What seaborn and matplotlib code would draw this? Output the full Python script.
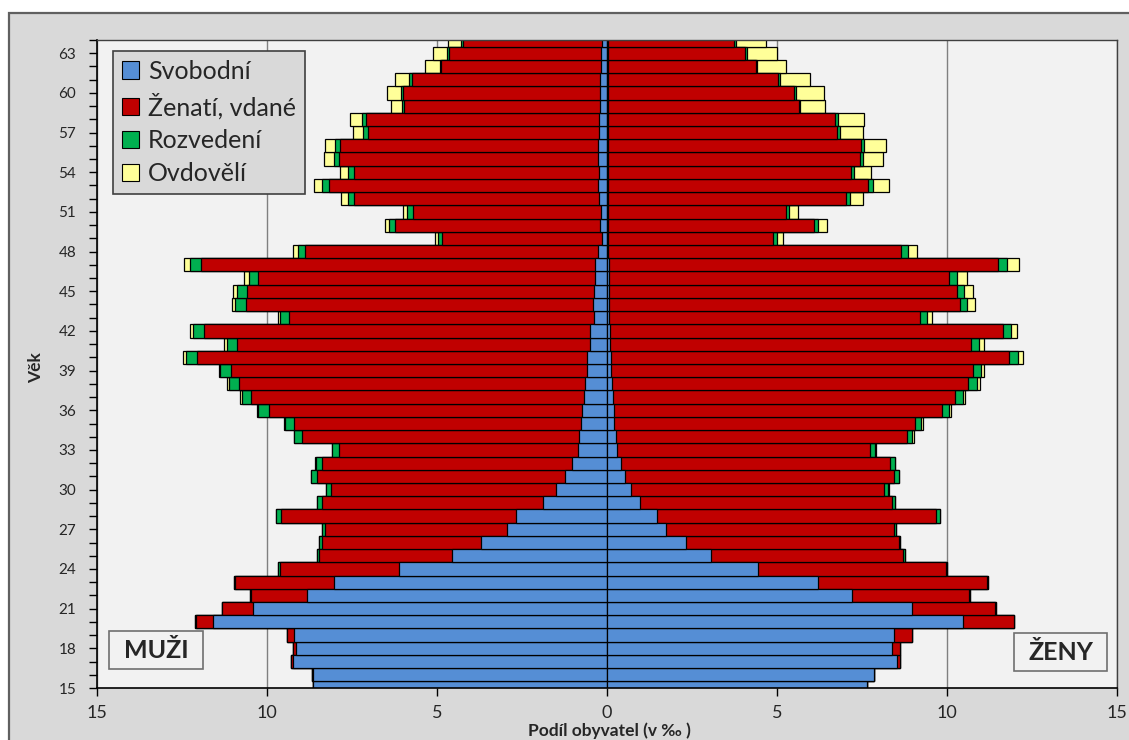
import numpy as np
import pandas as pd
import matplotlib
matplotlib.use("Agg")
import matplotlib.pyplot as plt
from matplotlib.patches import Patch, Rectangle
import seaborn as sns

# ---------------- data (‰ of population) ----------------
ages = list(range(15, 65))

male_svobodni = [8.65, 8.65, 9.24, 9.15, 9.22, 11.59, 10.42, 8.81, 8.03, 6.12,
                 4.57, 3.71, 2.95, 2.69, 1.89, 1.49, 1.23, 1.03, 0.84, 0.82,
                 0.76, 0.74, 0.69, 0.64, 0.58, 0.60, 0.50, 0.50, 0.37, 0.40,
                 0.37, 0.35, 0.36, 0.26, 0.15, 0.20, 0.18, 0.25, 0.26, 0.24,
                 0.27, 0.27, 0.24, 0.25, 0.20, 0.21, 0.20, 0.18, 0.18, 0.16]
male_zenati = [0.01, 0.02, 0.05, 0.10, 0.20, 0.51, 0.90, 1.66, 2.90, 3.50,
               3.89, 4.66, 5.34, 6.91, 6.50, 6.63, 7.31, 7.34, 7.05, 8.14,
               8.44, 9.21, 9.77, 10.19, 10.47, 11.45, 10.38, 11.34, 8.98, 10.21,
               10.21, 9.91, 11.57, 8.62, 4.69, 6.03, 5.53, 7.19, 7.92, 7.21,
               7.61, 7.59, 6.79, 6.85, 5.76, 5.79, 5.53, 4.70, 4.48, 4.09]
male_rozvedeni = [0.00, 0.00, 0.00, 0.00, 0.00, 0.01, 0.01, 0.02, 0.03, 0.05,
                  0.08, 0.09, 0.08, 0.14, 0.13, 0.15, 0.17, 0.20, 0.19, 0.24,
                  0.27, 0.30, 0.29, 0.30, 0.32, 0.34, 0.29, 0.33, 0.26, 0.32,
                  0.30, 0.28, 0.33, 0.22, 0.14, 0.19, 0.17, 0.17, 0.19, 0.16,
                  0.14, 0.14, 0.14, 0.12, 0.08, 0.05, 0.08, 0.04, 0.04, 0.05]
male_ovdoveli = [0.00, 0.00, 0.00, 0.00, 0.00, 0.00, 0.00, 0.00, 0.00, 0.00,
                 0.00, 0.00, 0.00, 0.01, 0.00, 0.00, 0.01, 0.01, 0.01, 0.02,
                 0.02, 0.03, 0.03, 0.04, 0.05, 0.07, 0.10, 0.10, 0.08, 0.09,
                 0.12, 0.14, 0.18, 0.15, 0.08, 0.12, 0.11, 0.20, 0.24, 0.23,
                 0.30, 0.30, 0.30, 0.34, 0.31, 0.41, 0.42, 0.43, 0.41, 0.39]

female_svobodni = [7.64, 7.84, 8.53, 8.37, 8.45, 10.48, 8.98, 7.22, 6.21, 4.45,
                   3.07, 2.32, 1.73, 1.48, 0.96, 0.72, 0.54, 0.41, 0.29, 0.27,
                   0.22, 0.20, 0.19, 0.14, 0.12, 0.11, 0.10, 0.08, 0.07, 0.07,
                   0.06, 0.06, 0.05, 0.04, 0.03, 0.03, 0.03, 0.03, 0.03, 0.03,
                   0.03, 0.03, 0.03, 0.03, 0.03, 0.03, 0.03, 0.03, 0.03, 0.03]
female_vdane = [0.02, 0.02, 0.10, 0.25, 0.53, 1.49, 2.44, 3.44, 4.98, 5.51,
                5.63, 6.26, 6.70, 8.19, 7.42, 7.43, 7.89, 7.91, 7.44, 8.55,
                8.84, 9.66, 10.04, 10.49, 10.64, 11.72, 10.61, 11.56, 9.14, 10.31,
                10.22, 10.01, 11.45, 8.61, 4.86, 6.05, 5.23, 6.99, 7.66, 7.14,
                7.40, 7.43, 6.74, 6.69, 5.61, 5.48, 5.01, 4.35, 4.04, 3.70]
female_rozvedene = [0.00, 0.00, 0.00, 0.00, 0.00, 0.01, 0.01, 0.02, 0.02, 0.04,
                    0.05, 0.05, 0.07, 0.12, 0.10, 0.12, 0.15, 0.15, 0.15, 0.16,
                    0.18, 0.21, 0.23, 0.24, 0.23, 0.27, 0.22, 0.25, 0.20, 0.22,
                    0.22, 0.23, 0.27, 0.20, 0.11, 0.14, 0.10, 0.13, 0.13, 0.09,
                    0.10, 0.09, 0.08, 0.08, 0.05, 0.05, 0.05, 0.04, 0.05, 0.05]
female_ovdovele = [0.00, 0.00, 0.00, 0.00, 0.00, 0.00, 0.00, 0.00, 0.00, 0.00,
                   0.00, 0.00, 0.00, 0.00, 0.00, 0.01, 0.01, 0.01, 0.02, 0.05,
                   0.05, 0.04, 0.07, 0.09, 0.11, 0.14, 0.15, 0.18, 0.16, 0.21,
                   0.25, 0.28, 0.35, 0.28, 0.17, 0.26, 0.26, 0.38, 0.47, 0.49,
                   0.59, 0.67, 0.67, 0.75, 0.72, 0.83, 0.87, 0.85, 0.87, 0.91]

series_names = ["Svobodní", "Ženatí, vdané", "Rozvedení", "Ovdovělí"]
series_colors = ["#558ED5", "#C00000", "#00B050", "#FFFF99"]
x_ticks = [-15, -10, -5, 0, 5, 10, 15]
x_tick_labels = ["15", "10", "5", "0", "5", "10", "15"]
y_ticks = list(range(15, 64, 3))

# ---------------- style ----------------
sns.set_style("white")
plt.rcParams["font.family"] = ["Lato", "DejaVu Sans"]

W_PX, H_PX = 1129, 740
fig = plt.figure(figsize=(W_PX / 100, H_PX / 100), dpi=100)
fig.patch.set_facecolor("white")

# chart-area background (grey with dark frame)
fig.add_artist(Rectangle((9 / W_PX, -0.02), 1.05, 1 - 13 / H_PX + 0.02,
                         transform=fig.transFigure, facecolor="#D9D9D9",
                         edgecolor="#606060", linewidth=1.6, zorder=-10))

L, R, T, B = 97, 1117, 40, 688
ax = fig.add_axes([L / W_PX, 1 - B / H_PX, (R - L) / W_PX, (B - T) / H_PX])
ax.set_facecolor("#F2F2F2")

male = np.array([male_svobodni, male_zenati, male_rozvedeni, male_ovdoveli])
female = np.array([female_svobodni, female_vdane, female_rozvedene, female_ovdovele])
male_cum = np.cumsum(male, axis=0)
female_cum = np.cumsum(female, axis=0)

# stacked bars drawn as overlapping cumulative bars (outermost first)
for k in [3, 2, 1, 0]:
    for sign, cum in [(-1, male_cum), (1, female_cum)]:
        df = pd.DataFrame({"val": sign * cum[k], "age": ages})
        sns.barplot(data=df, x="val", y="age", orient="h", native_scale=True,
                    width=1.0, color=series_colors[k], saturation=1,
                    edgecolor="black", linewidth=0.9, errorbar=None, ax=ax,
                    zorder=2)

ax.set_xlim(-15, 15)
ax.set_ylim(15, 64)
ax.set_xlabel("")
ax.set_ylabel("")

ax.set_xticks(x_ticks)
ax.set_xticklabels(x_tick_labels, fontsize=13)
ax.set_yticks(y_ticks)
ax.set_yticklabels([str(a) for a in y_ticks], fontsize=11)
ax.set_yticks(ages, minor=True)
ax.tick_params(axis="y", which="both", direction="out", length=6, width=1,
               color="black", left=True, pad=9)
ax.tick_params(axis="x", which="major", direction="out", length=6, width=1,
               color="black", bottom=True, pad=6)

ax.set_axisbelow(True)
ax.xaxis.grid(True, color="#808080", linewidth=1.0, zorder=0)
ax.yaxis.grid(False)

for s in ["top", "right"]:
    ax.spines[s].set_color("#404040")
    ax.spines[s].set_linewidth(1.0)
for s in ["left", "bottom"]:
    ax.spines[s].set_color("black")
    ax.spines[s].set_linewidth(1.2)

# legend
handles = [Patch(facecolor=c, edgecolor="black", linewidth=0.8) for c in series_colors]
leg = fig.legend(handles, series_names, loc="upper left",
                 bbox_to_anchor=(113 / W_PX, 1 - 51 / H_PX),
                 bbox_transform=fig.transFigure, fontsize=18,
                 frameon=True, fancybox=False, framealpha=1,
                 facecolor="#D9D9D9", edgecolor="#404040",
                 handlelength=0.7, handleheight=0.7, handletextpad=0.35,
                 labelspacing=0.4, borderpad=0.35, borderaxespad=0)
leg.get_frame().set_linewidth(1.2)

# MUŽI / ŽENY boxes
def label_box(x0, y0, x1, y1, text):
    fig.add_artist(Rectangle((x0 / W_PX, 1 - y1 / H_PX), (x1 - x0) / W_PX,
                             (y1 - y0) / H_PX, transform=fig.transFigure,
                             facecolor="#F2F2F2", edgecolor="#707070",
                             linewidth=1.2, zorder=5))
    fig.text((x0 + x1) / 2 / W_PX, 1 - (y0 + y1) / 2 / H_PX, text,
             ha="center", va="center", fontsize=18, fontweight="bold",
             zorder=6)

label_box(109, 631, 203, 669, "MUŽI")
label_box(1014, 633, 1107, 671, "ŽENY")

# axis titles
fig.text(36 / W_PX, 1 - 368 / H_PX, "Věk", rotation=90, ha="center",
         va="center", fontsize=12.5, fontweight="bold")
fig.text(609 / W_PX, 1 - 731 / H_PX, "Podíl obyvatel (v ‰ )", ha="center",
         va="center", fontsize=12.5, fontweight="bold")

fig.savefig("out.png", dpi=100)
